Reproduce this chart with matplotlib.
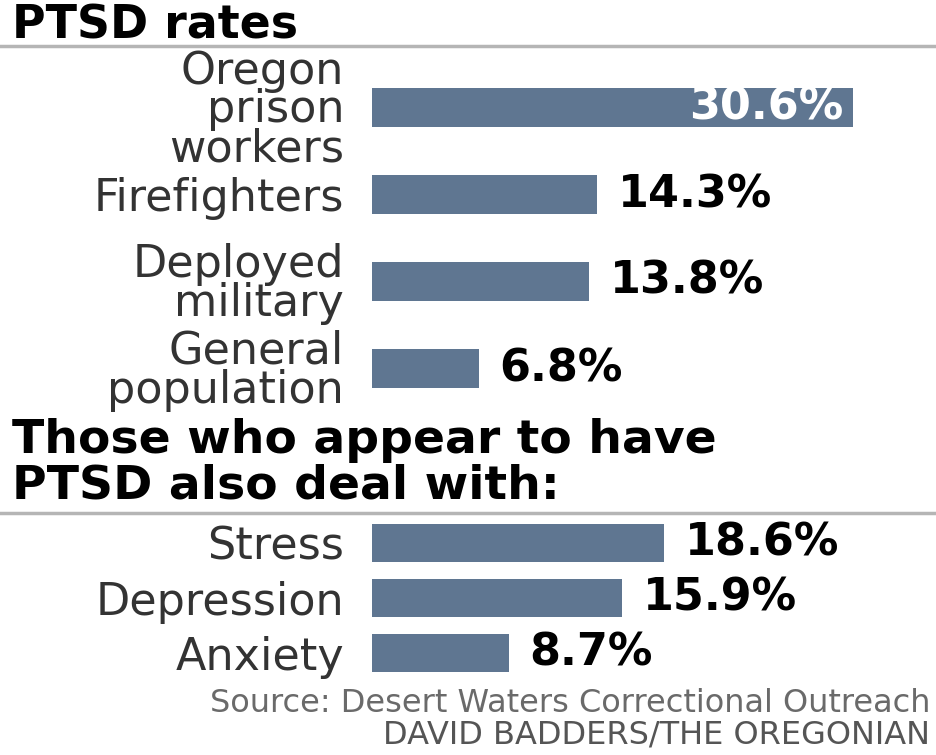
import matplotlib
matplotlib.use('Agg')
import matplotlib.pyplot as plt

# PTSD rates
rate_labels = ['Oregon\nprison\nworkers', 'Firefighters', 'Deployed\nmilitary', 'General\npopulation']
rate_values = [30.6, 14.3, 13.8, 6.8]

# conditions among those with PTSD
cond_labels = ['Stress', 'Depression', 'Anxiety']
cond_values = [18.6, 15.9, 8.7]

title_top = 'PTSD rates'
title_bottom = 'Those who appear to have\nPTSD also deal with:'
source = 'Source: Desert Waters Correctional Outreach'
credit = 'DAVID BADDERS/THE OREGONIAN'

W, H = 936, 755
BAR = '#5f7691'
XMAX = 35.9

plt.rcParams['font.family'] = ['DejaVu Sans']
fig = plt.figure(figsize=(W / 100, H / 100), dpi=100)
fig.patch.set_facecolor('white')


def px(x, y):
    return x / W, 1 - y / H


def bar_panel(top, bottom, labels, values, height, inside=()):
    ax = fig.add_axes([372 / W, 1 - bottom / H, 1 - 372 / W, (bottom - top) / H])
    ypos = range(len(values))
    ax.barh(ypos, values, height=height, color=BAR)
    ax.set_yticks(list(ypos))
    ax.set_yticklabels(labels, fontsize=32, color='#333333', linespacing=0.88)
    ax.tick_params(axis='y', length=0, pad=20)
    ax.set_xticks([])
    ax.set_xlim(0, XMAX)
    ax.set_ylim(len(values) - 0.5, -0.5)
    for s in ax.spines.values():
        s.set_visible(False)
    for i, v in enumerate(values):
        if i in inside:
            ax.annotate(f'{v}%', (v, i), xytext=(-7, 0), textcoords='offset points',
                        ha='right', va='center', fontsize=32, fontweight='bold', color='white')
        else:
            ax.annotate(f'{v}%', (v, i), xytext=(15, 0), textcoords='offset points',
                        ha='left', va='center', fontsize=32, fontweight='bold', color='black')
    return ax


bar_panel(64, 412, rate_labels, rate_values, 0.44, inside=(0,))
bar_panel(515, 681, cond_labels, cond_values, 0.69)

# headings and rules
fig.text(*px(12, 26), title_top, fontsize=33, fontweight='bold', ha='left', va='center')
fig.text(*px(12, 463), title_bottom, fontsize=34, fontweight='bold', ha='left', va='center',
         linespacing=1.0)
for y in (46, 513):
    fig.add_artist(plt.Line2D([0, 1], [1 - y / H] * 2, color='#b5b5b5', lw=2.5))

fig.text(*px(930, 703), source, fontsize=23, color='#6a6a6a', ha='right', va='center')
fig.text(*px(930, 735), credit, fontsize=23, color='#555555', ha='right', va='center')

fig.savefig('out.png', dpi=100)
plt.close(fig)
